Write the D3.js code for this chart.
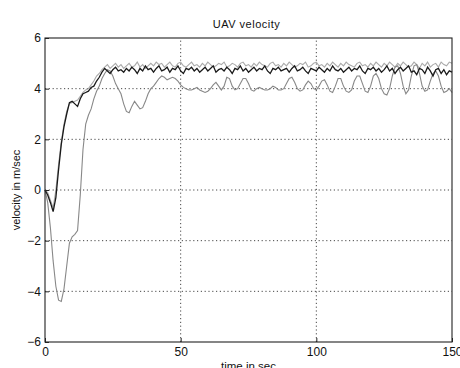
<!DOCTYPE html>
<html>
<head>
<meta charset="utf-8">
<script src="https://cdn.jsdelivr.net/npm/d3@7/dist/d3.min.js"></script>
<style>
  html, body { margin: 0; padding: 0; background: #fff; }
  svg { display: block; font-family: "Liberation Sans", Arial, sans-serif; }
</style>
</head>
<body>
<div id="chart"></div>
<script>
// sampling: one value per second, t = 0 .. 150
const timeSec = d3.range(0, 151);

const xTicks = [0, 50, 100, 150];
const yTicks = [-6, -4, -2, 0, 2, 4, 6];

// black solid trace
const velocityA = [
  0, -0.2, -0.5, -0.85, -0.3, 0.8, 1.8, 2.5, 3.0, 3.45,
  3.5, 3.4, 3.3, 3.6, 3.8, 3.85, 3.9, 4.05, 4.1, 4.3,
  4.45, 4.65, 4.8, 4.7, 4.6, 4.75, 4.85, 4.7, 4.75, 4.65,
  4.8, 4.7, 4.85, 4.75, 4.6, 4.8, 4.7, 4.9, 4.75, 4.8,
  4.65, 4.8, 4.9, 4.7, 4.75, 4.85, 4.65, 4.8, 4.75, 4.9,
  4.7, 4.6, 4.8, 4.75, 4.85, 4.7, 4.8, 4.65, 4.75, 4.85,
  4.7, 4.8, 4.9, 4.65, 4.75, 4.8, 4.7, 4.85, 4.75, 4.6,
  4.8, 4.75, 4.9, 4.7, 4.8, 4.65, 4.75, 4.85, 4.7, 4.8,
  4.75, 4.9, 4.7, 4.6, 4.8, 4.75, 4.85, 4.7, 4.75, 4.8,
  4.65, 4.8, 4.9, 4.7, 4.75, 4.85, 4.7, 4.6, 4.8, 4.75,
  4.7, 4.85, 4.75, 4.65, 4.8, 4.7, 4.9, 4.75, 4.7, 4.8,
  4.65, 4.75, 4.85, 4.7, 4.8, 4.75, 4.9, 4.7, 4.6, 4.8,
  4.75, 4.85, 4.7, 4.8, 4.65, 4.75, 4.9, 4.7, 4.8, 4.6,
  4.75, 4.85, 4.7, 4.8, 4.9, 4.65, 4.7, 4.55, 4.8, 4.75,
  4.6, 4.85, 4.7, 4.5, 4.75, 4.8, 4.6, 4.75, 4.55, 4.7,
  4.65
];

// light grey trace (upper)
const velocityB = [
  0, -0.1, -0.4, -0.7, 0.0, 1.0, 1.9, 2.6, 3.1, 3.4,
  3.45, 3.5, 3.55, 3.7, 3.85, 3.95, 4.0, 4.15, 4.3, 4.5,
  4.6, 4.75, 4.85, 4.95, 4.8, 4.9, 5.0, 4.85, 4.95, 4.8,
  4.9, 5.0, 4.85, 4.9, 5.05, 4.85, 4.95, 4.8, 4.9, 5.0,
  4.9, 5.05, 4.95, 5.0, 4.85, 4.95, 5.05, 4.9, 4.85, 5.0,
  5.05, 4.9, 4.85, 4.95, 5.05, 4.9, 4.95, 4.85, 5.0, 4.9,
  5.05, 4.95, 4.85, 4.9, 5.0, 4.95, 5.05, 4.85, 4.9, 5.0,
  4.95, 4.85, 5.0, 5.05, 4.9, 4.95, 4.85, 5.0, 4.9, 5.05,
  4.95, 4.9, 4.85, 5.0, 5.05, 4.9, 4.95, 4.85, 5.0, 4.9,
  5.05, 4.95, 4.85, 4.9, 5.0, 4.95, 5.05, 4.85, 4.9, 5.0,
  5.05, 4.9, 4.95, 4.85, 5.0, 4.9, 5.05, 4.95, 4.85, 5.0,
  4.9, 5.05, 4.95, 4.9, 4.85, 5.0, 5.05, 4.9, 4.95, 4.85,
  5.0, 4.9, 5.05, 4.95, 4.85, 5.0, 4.9, 5.05, 4.95, 4.85,
  5.0, 4.9, 5.05, 4.95, 4.85, 4.9, 5.05, 4.95, 4.8, 5.0,
  4.9, 5.05, 4.85, 4.95, 5.0, 4.85, 5.05, 4.95, 4.9, 5.05,
  5.0
];

// mid grey trace (deep dip, lower oscillation)
const velocityC = [
  0, -0.5, -1.5, -2.8, -3.8, -4.35, -4.4, -3.9, -3.0, -2.1,
  -1.85, -1.75, -1.6, -0.2, 1.6, 2.6, 2.95, 3.2, 3.6, 3.9,
  4.1, 4.4, 4.6, 4.75, 4.7, 4.5, 4.2, 4.0, 3.8, 3.4,
  3.1, 3.05, 3.3, 3.5, 3.35, 3.2, 3.25, 3.5, 3.8, 4.0,
  4.1, 4.25, 4.4, 4.5, 4.45, 4.35, 4.4, 4.45, 4.4, 4.3,
  4.15, 4.05, 4.0, 3.95, 3.95, 4.0, 4.05, 3.95, 3.9, 3.85,
  3.9, 4.0, 4.15, 4.25, 4.1, 3.95, 4.1, 4.45, 4.4, 4.1,
  3.95, 4.0, 4.2, 4.4, 4.4, 4.2, 3.95, 3.9, 4.0, 4.05,
  4.0, 3.95, 3.95, 4.0, 4.1, 4.05, 3.95, 3.95, 4.0, 4.2,
  4.4, 4.45, 4.25, 4.0, 3.9, 3.95, 4.15, 4.3, 4.2, 4.0,
  3.95, 4.1, 4.3, 4.35, 4.15, 3.9, 3.85, 4.1, 4.4, 4.4,
  4.1, 3.9, 3.85, 3.95, 4.3, 4.5, 4.5, 4.2, 3.9, 3.85,
  4.1, 4.5, 4.6, 4.4, 4.0, 3.8, 3.75, 4.0, 4.5, 4.85,
  4.9, 4.6, 4.1, 3.8, 3.95, 4.5, 4.9, 4.95, 4.6, 4.1,
  3.9, 3.95, 4.3, 4.6, 4.7, 4.5, 4.1, 3.85, 3.9, 4.0,
  3.85
];

const width = 460, height = 368;
const margin = { top: 38, right: 8, bottom: 26, left: 45 };

const svg = d3.select('#chart').append('svg')
  .attr('width', width)
  .attr('height', height);

const x = d3.scaleLinear().domain([0, 150]).range([margin.left, width - margin.right]);
const y = d3.scaleLinear().domain([-6, 6]).range([height - margin.bottom, margin.top]);

// grid (dotted, matlab style)
const grid = svg.append('g').attr('stroke', '#333').attr('stroke-width', 0.9)
  .attr('stroke-dasharray', '1.2,2.6');
grid.selectAll('.gx').data(xTicks.slice(1, -1)).enter().append('line')
  .attr('x1', d => x(d)).attr('x2', d => x(d))
  .attr('y1', y(-6)).attr('y2', y(6));
grid.selectAll('.gy').data(yTicks.slice(1, -1)).enter().append('line')
  .attr('x1', x(0)).attr('x2', x(150))
  .attr('y1', d => y(d)).attr('y2', d => y(d));

// traces
const line = d3.line().x((d, i) => x(timeSec[i])).y(d => y(d));
svg.append('path').datum(velocityB)
  .attr('d', line).attr('fill', 'none')
  .attr('stroke', '#aaaaaa').attr('stroke-width', 1.1);
svg.append('path').datum(velocityC)
  .attr('d', line).attr('fill', 'none')
  .attr('stroke', '#888888').attr('stroke-width', 1.1);
svg.append('path').datum(velocityA)
  .attr('d', line).attr('fill', 'none')
  .attr('stroke', '#1a1a1a').attr('stroke-width', 1.3);

// box + axes (ticks inside)
svg.append('rect')
  .attr('x', x(0)).attr('y', y(6))
  .attr('width', x(150) - x(0)).attr('height', y(-6) - y(6))
  .attr('fill', 'none').attr('stroke', '#222').attr('stroke-width', 1.1);

const xAxis = svg.append('g')
  .attr('transform', `translate(0,${y(-6)})`)
  .call(d3.axisBottom(x).tickValues(xTicks).tickSize(-4).tickPadding(5));
const yAxis = svg.append('g')
  .attr('transform', `translate(${x(0)},0)`)
  .call(d3.axisLeft(y).tickValues(yTicks).tickSize(-4).tickPadding(4));
[xAxis, yAxis].forEach(a => {
  a.select('.domain').remove();
  a.selectAll('line').attr('stroke', '#222');
  a.selectAll('text').attr('fill', '#111').style('font-size', '12px')
    .style('font-family', '"Liberation Sans", Arial, sans-serif');
});

// titles
svg.append('text')
  .attr('x', (x(0) + x(150)) / 2 - 2).attr('y', 28)
  .attr('text-anchor', 'middle').attr('fill', '#111')
  .style('font-size', '11px').style('letter-spacing', '0.5px')
  .text('UAV  velocity');
svg.append('text')
  .attr('x', (x(0) + x(150)) / 2).attr('y', 370)
  .attr('text-anchor', 'middle').attr('fill', '#111')
  .style('font-size', '11.5px')
  .text('time in sec');
svg.append('text')
  .attr('transform', `translate(20,${y(0)}) rotate(-90)`)
  .attr('text-anchor', 'middle').attr('fill', '#111')
  .style('font-size', '11px')
  .text('velocity in m/sec');
</script>
</body>
</html>
